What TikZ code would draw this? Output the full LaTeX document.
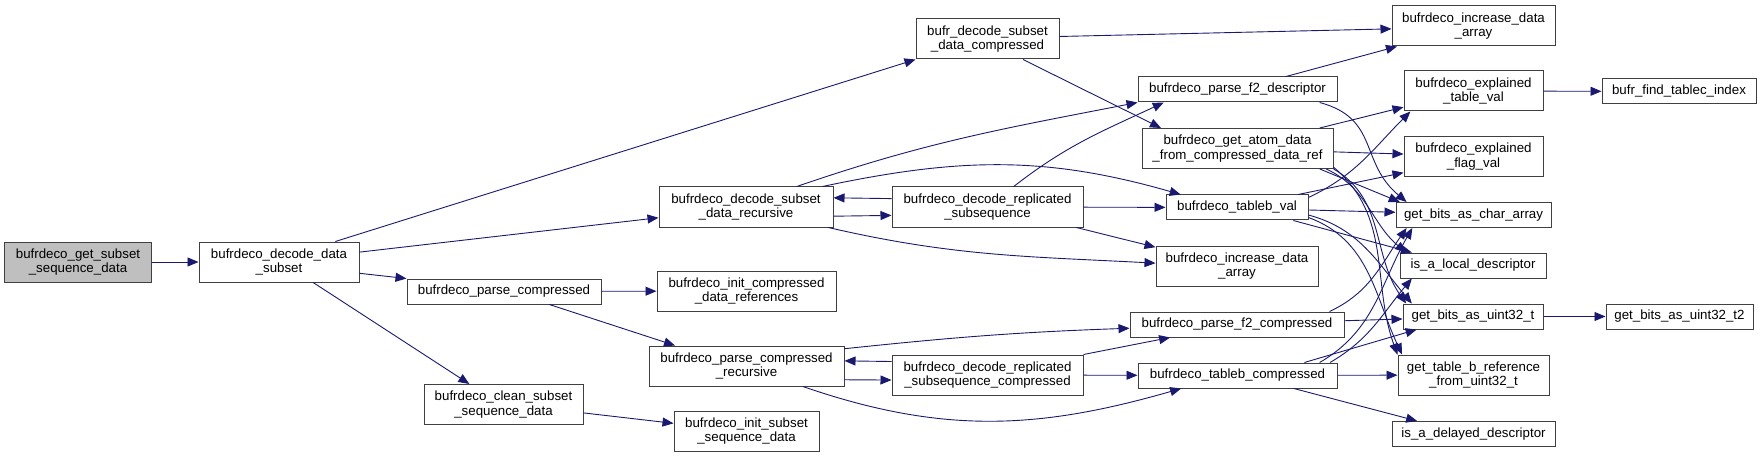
\documentclass[tikz,border=0pt]{standalone}
\usepackage{fontspec}
\usepackage{tikz}
\usetikzlibrary{arrows.meta, positioning}
\newfontfamily\graphfont{Liberation Sans}
\definecolor{callblue}{HTML}{191970}
\definecolor{rootgray}{HTML}{BFBFBF}
\colorlet{boxline}{black!75}

\begin{document}
\begin{tikzpicture}[x=1pt, y=1pt, >={Triangle[length=11pt, width=9pt]},
  fnbox/.style={draw=boxline, fill=white, line width=1pt, inner sep=2pt,
    align=center, minimum height=25pt,
    font=\graphfont\fontsize{13.3}{14.6}\selectfont},
  fnboxtall/.style={fnbox, minimum height=40pt},
  callarrow/.style={->, draw=callblue, line width=0.9pt}]

    \useasboundingbox (0,0) rectangle (1761,-457);

    % Root of the call graph
    \node[fnboxtall, fill=rootgray, minimum width=147pt] (getsubset) at (78,-262)
      {bufrdeco\_get\_subset\\\_sequence\_data};

    % First and second level
    \node[fnboxtall, minimum width=160pt] (decdata) at (279,-262)
      {bufrdeco\_decode\_data\\\_subset};
    \node[fnbox, minimum width=194pt] (parsecomp) at (504,-291.5)
      {bufrdeco\_parse\_compressed};
    \node[fnboxtall, minimum width=159pt] (cleansub) at (503.5,-404.5)
      {bufrdeco\_clean\_subset\\\_sequence\_data};

    % Third level
    \node[fnboxtall, minimum width=143pt] (bufrcomp) at (987.5,-39)
      {bufr\_decode\_subset\\\_data\_compressed};
    \node[fnboxtall, minimum width=174pt] (decrec) at (746,-207)
      {bufrdeco\_decode\_subset\\\_data\_recursive};
    \node[fnboxtall, minimum width=191pt] (decrep) at (987.5,-207)
      {bufrdeco\_decode\_replicated\\\_subsequence};
    \node[fnboxtall, minimum width=179pt] (initcomp) at (746.5,-291)
      {bufrdeco\_init\_compressed\\\_data\_references};
    \node[fnboxtall, minimum width=195pt] (parserec) at (746.5,-366)
      {bufrdeco\_parse\_compressed\\\_recursive};
    \node[fnboxtall, minimum width=191pt] (decrepcomp) at (987.5,-375)
      {bufrdeco\_decode\_replicated\\\_subsequence\_compressed};
    \node[fnboxtall, minimum width=145pt] (initsub) at (746.5,-431)
      {bufrdeco\_init\_subset\\\_sequence\_data};

    % Fourth level
    \node[fnbox, minimum width=199pt] (parsef2d) at (1237.5,-89.5)
      {bufrdeco\_parse\_f2\_descriptor};
    \node[fnboxtall, minimum width=191pt] (getatom) at (1237.5,-148.5)
      {bufrdeco\_get\_atom\_data\\\_from\_compressed\_data\_ref};
    \node[fnbox, minimum width=142pt] (tablebval) at (1237,-207.5)
      {bufrdeco\_tableb\_val};
    \node[fnboxtall, minimum width=162pt] (incdatab) at (1237,-266)
      {bufrdeco\_increase\_data\\\_array};
    \node[fnbox, minimum width=214pt] (parsef2c) at (1237,-324.5)
      {bufrdeco\_parse\_f2\_compressed};
    \node[fnbox, minimum width=199pt] (tablebcomp) at (1237.5,-375.5)
      {bufrdeco\_tableb\_compressed};

    % Leaves
    \node[fnboxtall, minimum width=163pt] (incdataa) at (1473.5,-26)
      {bufrdeco\_increase\_data\\\_array};
    \node[fnboxtall, minimum width=139pt] (expltab) at (1473.5,-91)
      {bufrdeco\_explained\\\_table\_val};
    \node[fnbox, minimum width=154pt] (findtablec) at (1679,-91.5)
      {bufr\_find\_tablec\_index};
    \node[fnboxtall, minimum width=139pt] (explflag) at (1473.5,-156.5)
      {bufrdeco\_explained\\\_flag\_val};
    \node[fnbox, minimum width=155pt] (charray) at (1473.5,-215)
      {get\_bits\_as\_char\_array};
    \node[fnbox, minimum width=146pt] (islocal) at (1473,-265.5)
      {is\_a\_local\_descriptor};
    \node[fnbox, minimum width=140pt] (uintbits) at (1473,-316.5)
      {get\_bits\_as\_uint32\_t};
    \node[fnbox, minimum width=147pt] (uintbitstwo) at (1679.5,-316.5)
      {get\_bits\_as\_uint32\_t2};
    \node[fnboxtall, minimum width=151pt] (tablebref) at (1473.5,-375)
      {get\_table\_b\_reference\\\_from\_uint32\_t};
    \node[fnbox, minimum width=163pt] (isdelayed) at (1473.5,-434)
      {is\_a\_delayed\_descriptor};

    % Straight calls
    \foreach \src/\dst in {getsubset/decdata, decdata.20/bufrcomp.south west,
        decdata.7/decrec.187, decdata.-8/parsecomp.north west,
        decdata.-31/cleansub.149, parsecomp/initcomp,
        parsecomp.-16/parserec.164, cleansub.-6/initsub.174,
        bufrcomp.2/incdataa.182, bufrcomp.-30/getatom.165,
        decrec.-6/decrep.185, decrep.175/decrec.6, decrep/tablebval,
        decrep.-13/incdatab.167, parserec.-8/decrepcomp.183,
        decrepcomp.172/parserec.3, decrepcomp.north east/parsef2c.191,
        decrepcomp/tablebcomp, parsef2d.15/incdataa.195,
        getatom.14/expltab.193, getatom.-2/explflag.178,
        getatom.-14/charray.170, tablebval.12/explflag.193,
        tablebval.-2/charray.178, tablebval.-13/islocal.168,
        parsef2c.2/uintbits.182, tablebcomp.11/uintbits.193,
        tablebcomp/tablebref, tablebcomp.-13/isdelayed.167,
        expltab/findtablec, uintbits/uintbitstwo} {
      \draw[callarrow] (\src) -- (\dst);
    }

    % Curved calls
    \draw[callarrow] (decrec.22) to[out=19, in=191] (parsef2d.south west);
    \draw[callarrow] (decrec.15) to[out=12, in=164] (tablebval.167);
    \draw[callarrow] (decrec.-14) to[out=-13, in=177] (incdatab.178);
    \draw[callarrow] (decrep.38) to[out=38, in=205] (parsef2d.190);
    \draw[callarrow] (parserec.10) to[out=6, in=182] (parsef2c.182);
    \draw[callarrow] (parserec.-20) to[out=-19, in=196] (tablebcomp.193);
    \draw[callarrow] (parsef2d.-9) to[out=-15, in=140, looseness=1.2] (charray.169);
    \draw[callarrow] (getatom.-13) to[out=-25, in=140] (islocal.169);
    \draw[callarrow] (getatom.-12) to[out=-30, in=125] (uintbits.169);
    \draw[callarrow] (getatom.-11) to[out=-40, in=110] (tablebref.165);
    \draw[callarrow] (tablebval.8) to[out=25, in=225] (expltab.198);
    \draw[callarrow] (tablebval.-6) to[out=-15, in=130] (uintbits.168);
    \draw[callarrow] (tablebval.-8) to[out=-20, in=115] (tablebref.164);
    \draw[callarrow] (parsef2c.8) to[out=25, in=235] (charray.191);
    \draw[callarrow] (tablebcomp.9) to[out=30, in=240] (charray.192);
    \draw[callarrow] (tablebcomp.8) to[out=30, in=230] (islocal.192);

\end{tikzpicture}
\end{document}
